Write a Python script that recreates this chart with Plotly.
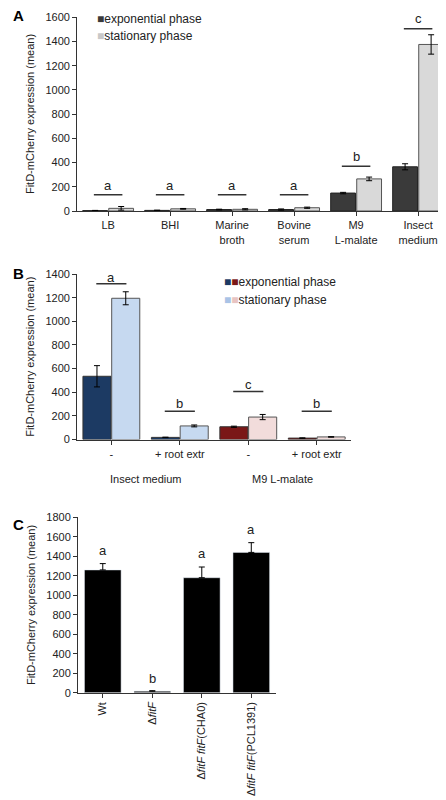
import plotly.graph_objects as go

# Panel A
a_cats = ["LB", "BHI", "Marine<br>broth", "Bovine<br>serum", "M9<br>L-malate", "Insect<br>medium"]
a_exp = [3, 5, 12, 12, 148, 365]
a_exp_err = [2, 2, 3, 5, 6, 25]
a_stat = [22, 18, 14, 27, 265, 1375]
a_stat_err = [15, 3, 5, 5, 15, 80]
a_sig = ["a", "a", "a", "a", "b", "c"]
a_sig_line = [134, 134, 134, 134, 370, 1505]
a_sig_txt = [213, 213, 213, 213, 450, 1590]

# Panel B
b_cats = ["-", "+ root extr", "-", "+ root extr"]
b_groups = ["Insect medium", "M9 L-malate"]
b_exp = [535, 18, 108, 12]
b_exp_err = [90, 2, 5, 2]
b_stat = [1195, 115, 190, 22]
b_stat_err = [55, 8, 22, 2]
b_exp_col = ["#1c3a63", "#1c3a63", "#7a1717", "#7a1717"]
b_stat_col = ["#c6d9f0", "#c6d9f0", "#f2dcdb", "#f2dcdb"]
b_sig = ["a", "b", "c", "b"]
b_sig_line = [1317, 240, 406, 240]
b_sig_txt = [1375, 306, 464, 306]

# Panel C
c_cats = ["Wt", "Δ<i>fitF</i>", "Δ<i>fitF fitF</i>(CHA0)", "Δ<i>fitF fitF</i>(PCL1391)"]
c_vals = [1260, 15, 1180, 1440]
c_err = [65, 5, 110, 100]
c_sig = ["a", "b", "a", "a"]
c_sig_txt = [1460, 150, 1430, 1677]

fig = go.Figure()
eb = dict(type="data", color="black", thickness=1, width=3)
off = 0.21
ia = list(range(len(a_cats)))
fig.add_bar(x=[i - off for i in ia], y=a_exp, width=0.4, marker=dict(color="#3a3a3a", line=dict(color="#222", width=1)),
            error_y=dict(array=a_exp_err, **eb), xaxis="x", yaxis="y", showlegend=False)
fig.add_bar(x=[i + off for i in ia], y=a_stat, width=0.4, marker=dict(color="#d9d9d9", line=dict(color="#555", width=1)),
            error_y=dict(array=a_stat_err, **eb), xaxis="x", yaxis="y", showlegend=False)

ib = list(range(len(b_cats)))
fig.add_bar(x=[i - off for i in ib], y=b_exp, width=0.41, marker=dict(color=b_exp_col, line=dict(color="#333", width=1)),
            error_y=dict(array=b_exp_err, **eb), xaxis="x2", yaxis="y2", showlegend=False)
fig.add_bar(x=[i + off for i in ib], y=b_stat, width=0.41, marker=dict(color=b_stat_col, line=dict(color="#555", width=1)),
            error_y=dict(array=b_stat_err, **eb), xaxis="x2", yaxis="y2", showlegend=False)

ic = list(range(len(c_cats)))
fig.add_bar(x=ic, y=c_vals, width=0.74, marker=dict(color="black"),
            error_y=dict(array=c_err, symmetric=False, arrayminus=[0]*4, **eb), xaxis="x3", yaxis="y3", showlegend=False)

tf = dict(family="Liberation Sans, Arial", size=11, color="#222")
ax = dict(showgrid=False, zeroline=False, showline=True, linecolor="#333", ticks="outside", ticklen=4,
          tickcolor="#333", tickfont=tf)
def dom(top, bot):
    return [max(0, 1 - bot / 800), min(1, 1 - top / 800)]
fig.update_layout(
    width=446, height=800, margin=dict(l=0, r=0, t=0, b=0), plot_bgcolor="white", paper_bgcolor="white",
    barmode="overlay", font=tf,
    xaxis=dict(domain=[0.155, 0.989], range=[-0.5, 5.5], tickvals=ia, ticktext=a_cats, anchor="y", **ax),
    yaxis=dict(domain=dom(3, 200), range=[0, 1602], dtick=200,
               anchor="x", title=dict(text="FitD-mCherry expression (mean)", font=dict(size=11), standoff=8), **ax),
    xaxis2=dict(domain=[0.155, 0.769], range=[-0.5, 3.5], tickvals=ib, ticktext=b_cats, anchor="y2", **ax),
    yaxis2=dict(domain=dom(264, 432), range=[0, 1400], dtick=200, anchor="x2",
                title=dict(text="FitD-mCherry expression (mean)", font=dict(size=11), standoff=8), **ax),
    xaxis3=dict(domain=[0.157, 0.601], range=[-0.5, 3.5], tickvals=ic, ticktext=c_cats, tickangle=-90, anchor="y3", **ax),
    yaxis3=dict(domain=dom(511, 689), range=[0, 1800], dtick=200, anchor="x3",
                title=dict(text="FitD-mCherry expression (mean)", font=dict(size=11), standoff=8), **ax),
)

shapes = []
anns = []
sf = dict(family="Liberation Sans, Arial", size=13, color="#222")
for i, (s, yl, yt) in enumerate(zip(a_sig, a_sig_line, a_sig_txt)):
    shapes.append(dict(type="line", xref="x", yref="y", x0=i - 0.23, x1=i + 0.23, y0=yl, y1=yl, line=dict(color="#333", width=1.5)))
    anns.append(dict(xref="x", yref="y", x=i, y=yt, text=s, showarrow=False, yanchor="middle", font=sf))
for i, (s, yl, yt) in enumerate(zip(b_sig, b_sig_line, b_sig_txt)):
    shapes.append(dict(type="line", xref="x2", yref="y2", x0=i - 0.22, x1=i + 0.22, y0=yl, y1=yl, line=dict(color="#333", width=1.5)))
    anns.append(dict(xref="x2", yref="y2", x=i, y=yt, text=s, showarrow=False, yanchor="middle", font=sf))
for i, (s, yt) in enumerate(zip(c_sig, c_sig_txt)):
    anns.append(dict(xref="x3", yref="y3", x=i, y=yt, text=s, showarrow=False, yanchor="middle", font=sf))
for g, xc in zip(b_groups, [0.5, 2.5]):
    anns.append(dict(xref="x2", yref="paper", x=xc, y=1 - 472 / 800, text=g, showarrow=False, font=tf))

lf = dict(family="Liberation Sans, Arial", size=12, color="#222")
anns += [
    dict(xref="paper", yref="paper", x=87 / 446, y=1 - 5 / 800, xanchor="left", yanchor="middle", showarrow=False, font=lf,
         text="<span style='color:#3a3a3a'>■</span>exponential phase"),
    dict(xref="paper", yref="paper", x=87 / 446, y=1 - 22 / 800, xanchor="left", yanchor="middle", showarrow=False, font=lf,
         text="<span style='color:#c8c8c8'>■</span>stationary phase"),
    dict(xref="paper", yref="paper", x=214 / 446, y=1 - 272 / 800, xanchor="left", yanchor="middle", showarrow=False, font=lf,
         text="<span style='color:#1c3a63'>■</span><span style='color:#7a1717'>■</span>exponential phase"),
    dict(xref="paper", yref="paper", x=214 / 446, y=1 - 290 / 800, xanchor="left", yanchor="middle", showarrow=False, font=lf,
         text="<span style='color:#a9c3e6'>■</span><span style='color:#e8c4c2'>■</span>stationary phase"),
]
pf = dict(family="Liberation Sans, Arial", size=15, color="black")
for t, yy in [("A", 2), ("B", 263), ("C", 518)]:
    anns.append(dict(xref="paper", yref="paper", x=3 / 446, y=1 - yy / 800, xanchor="left", yanchor="middle",
                     text=f"<b>{t}</b>", showarrow=False, font=pf))
fig.update_layout(shapes=shapes, annotations=anns)
fig.write_html("out.html")
